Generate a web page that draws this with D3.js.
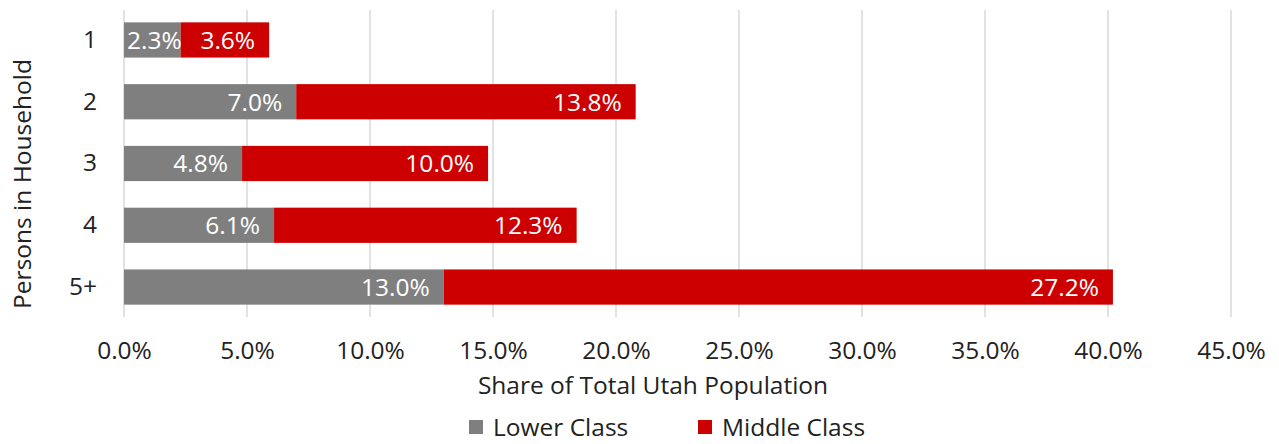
<!DOCTYPE html>
<html>
<head>
<meta charset="utf-8">
<script src="https://cdn.jsdelivr.net/npm/d3@7"></script>
<style>
  body { margin: 0; background: #fff; }
  text { font-family: "Open Sans", sans-serif; }
</style>
</head>
<body>
<div id="chart"></div>
<script>
var categories = ["1", "2", "3", "4", "5+"];
var lowerClass = [2.3, 7.0, 4.8, 6.1, 13.0];
var middleClass = [3.6, 13.8, 10.0, 12.3, 27.2];
var xTicks = [0, 5, 10, 15, 20, 25, 30, 35, 40, 45];
var seriesNames = ["Lower Class", "Middle Class"];
var colors = ["#7f7f7f", "#cc0000"];

var W = 1279, H = 444;
var margin = {top: 10, right: 48, bottom: 127, left: 124};
var width = W - margin.left - margin.right,
    height = H - margin.top - margin.bottom;
var fs = "24.5px";

var svg = d3.select("#chart").append("svg")
  .attr("width", W)
  .attr("height", H)
  .append("g")
  .attr("transform", "translate(" + margin.left + "," + margin.top + ")");

var x = d3.scaleLinear().domain([0, 45]).range([0, width]);
var y = d3.scaleBand().domain(categories).range([0, height]).paddingInner(0.43).paddingOuter(0.2);

// gridlines
svg.append("g")
  .selectAll("line")
  .data(xTicks)
  .join("line")
  .attr("x1", d => x(d)).attr("x2", d => x(d))
  .attr("y1", 0).attr("y2", height)
  .attr("stroke", "#d9d9d9")
  .attr("stroke-width", 1.5);

// stacked data
var rows = categories.map(function(c, i) {
  return {cat: c, segs: [
    {s: 0, x0: 0, x1: lowerClass[i], v: lowerClass[i]},
    {s: 1, x0: lowerClass[i], x1: lowerClass[i] + middleClass[i], v: middleClass[i]}
  ]};
});

var row = svg.selectAll(".row").data(rows).join("g")
  .attr("class", "row")
  .attr("transform", d => "translate(0," + y(d.cat) + ")");

row.selectAll("rect").data(d => d.segs).join("rect")
  .attr("x", d => x(d.x0))
  .attr("width", d => x(d.x1) - x(d.x0))
  .attr("y", 0)
  .attr("height", y.bandwidth())
  .attr("fill", d => colors[d.s]);

row.selectAll("text").data(d => d.segs).join("text")
  .attr("y", y.bandwidth() / 2)
  .attr("dy", "0.36em")
  .attr("text-anchor", "end")
  .attr("fill", "#fff")
  .style("font-size", fs)
  .text(d => d.v.toFixed(1) + "%")
  .attr("x", function(d) {
    var tw = this.getComputedTextLength();
    return Math.max(x(d.x1) - 14, x(d.x0) + tw + 3);
  });

// x axis labels
var xAxis = svg.append("g")
  .attr("transform", "translate(0," + height + ")")
  .call(d3.axisBottom(x).tickValues(xTicks).tickSize(0).tickPadding(25)
    .tickFormat(d => d.toFixed(1) + "%"));
xAxis.select(".domain").remove();
xAxis.selectAll("text")
  .style("font-size", fs)
  .style("font-family", "'Open Sans', sans-serif")
  .attr("fill", "#222");

// y axis labels
var yAxis = svg.append("g")
  .call(d3.axisLeft(y).tickSize(0).tickPadding(27));
yAxis.select(".domain").remove();
yAxis.selectAll("text")
  .style("font-size", fs)
  .style("font-family", "'Open Sans', sans-serif")
  .attr("fill", "#222");

// axis titles
svg.append("text")
  .attr("x", 653 - margin.left)
  .attr("y", 385 - margin.top)
  .attr("dy", "0.36em")
  .attr("text-anchor", "middle")
  .attr("fill", "#222")
  .style("font-size", fs)
  .text("Share of Total Utah Population");

svg.append("text")
  .attr("transform", "translate(" + (31 - margin.left) + "," + (184 - margin.top) + ") rotate(-90)")
  .attr("text-anchor", "middle")
  .attr("fill", "#222")
  .style("font-size", fs)
  .text("Persons in Household");

// legend
var legendX = [469, 698];
var legend = svg.append("g").selectAll("g").data(seriesNames).join("g")
  .attr("transform", (d, i) => "translate(" + (legendX[i] - margin.left) + "," + (420 - margin.top) + ")");
legend.append("rect")
  .attr("width", 14).attr("height", 14)
  .attr("fill", (d, i) => colors[i]);
legend.append("text")
  .attr("x", 24)
  .attr("y", 7)
  .attr("dy", "0.36em")
  .attr("fill", "#222")
  .style("font-size", fs)
  .text(d => d);
</script>
</body>
</html>
